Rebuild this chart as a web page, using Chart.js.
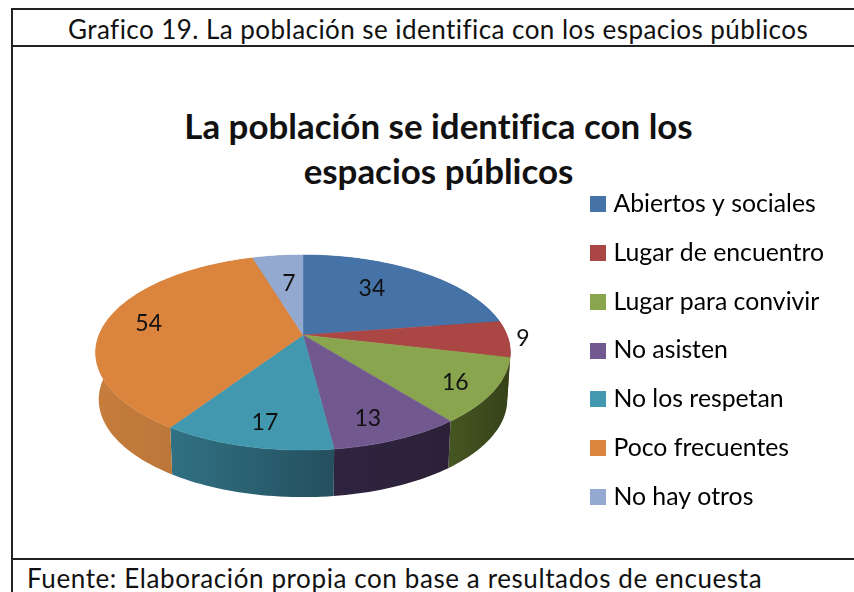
<!DOCTYPE html>
<html lang="es">
<head>
<meta charset="utf-8">
<title>Grafico 19</title>
<script src="https://cdn.jsdelivr.net/npm/chart.js@4/dist/chart.umd.min.js"></script>
<style>
    html, body { margin: 0; padding: 0; background: #fff; overflow: hidden; }
    body { width: 854px; height: 592px; position: relative; font-family: Lato, sans-serif; color: #111; font-variant-ligatures: none; }
    .linea { position: absolute; background: #222; }
    .texto { position: absolute; white-space: nowrap; }
    #grafica { position: absolute; left: 0; top: 0; }
</style>
</head>
<body>
<div class="linea" style="left:11px;top:8px;width:843px;height:2px"></div>
<div class="linea" style="left:12px;top:45px;width:842px;height:2px"></div>
<div class="linea" style="left:12px;top:558px;width:842px;height:2px"></div>
<div class="linea" style="left:11px;top:8px;width:2px;height:584px"></div>
<div class="texto" style="left:68px;top:12px;font-size:26px;letter-spacing:0.45px;line-height:34px">Grafico 19. La población se identifica con los espacios públicos</div>
<div class="texto" style="left:0;width:877px;top:103px;text-align:center;font-size:34.9px;font-weight:bold;line-height:45px">La población se identifica con los<br>espacios públicos</div>
<div class="texto" style="left:27px;top:561px;font-size:26px;letter-spacing:0.6px;line-height:34px">Fuente: Elaboración propia con base a resultados de encuesta</div>
<canvas id="grafica" width="854" height="592"></canvas>
<script>
const categorias = ["Abiertos y sociales", "Lugar de encuentro", "Lugar para convivir", "No asisten", "No los respetan", "Poco frecuentes", "No hay otros"];
const valores = [34, 9, 16, 13, 17, 54, 7];

const colores = ["#4572a7", "#aa4643", "#89a54e", "#71588f", "#4198af", "#db843d", "#93a9cf"];
// lado izquierdo y derecho de la pared del pastel
const coloresLado = [
    ["#35587f", "#35587f"], ["#7d3432", "#7d3432"], ["#465622", "#354118"], ["#2f2440", "#2c2138"],
    ["#307183", "#244f5e"], ["#c67d3c", "#b2703a"], ["#6f80a0", "#6f80a0"]
];
// donde cae cada numero dentro de su rebanada
const radioEtiqueta = [0.6, 1.07, 0.82, 0.78, 0.78, 0.77, 0.6];
const ajusteEtiquetaX = [-5, 0, -1, -6, 4, -2, 2];
const ajusteEtiquetaY = [-7, -1, 3, 6, 5, -1, -1];

// Perspectiva del disco
const centroX = 303, centroY = 335;
const radioX = 204, radioY = 94.4, fuga = 0.18;
const alto = 47, escalaBase = 0.985;

function proyectar(angulo, r) {
    const X = Math.cos(angulo) * r;
    const Y = Math.sin(angulo) * r;
    const w = 1 / (1 - fuga * Y);
    return { x: centroX + radioX * X * w, y: centroY + radioY * Y * w };
}

function puntosArco(inicio, fin) {
    const pasos = Math.max(4, Math.ceil((fin - inicio) * 40));
    const puntos = [];
    for (let i = 0; i <= pasos; i++) {
        puntos.push(proyectar(inicio + (fin - inicio) * i / pasos, 1));
    }
    return puntos;
}

const pastel3d = {
    id: "pastel3d",
    beforeDatasetsDraw(chart) {
        const ctx = chart.ctx;
        const arcos = chart.getDatasetMeta(0).data;
        ctx.save();

        // Paredes primero, la cara de arriba las tapa
        arcos.forEach((arco, i) => {
            const puntos = puntosArco(arco.startAngle, arco.endAngle);
            const xs = puntos.map(p => p.x);
            const grad = ctx.createLinearGradient(Math.min(...xs), 0, Math.max(...xs) + 1, 0);
            grad.addColorStop(0, coloresLado[i][0]);
            grad.addColorStop(1, coloresLado[i][1]);
            ctx.beginPath();
            puntos.forEach((p, k) => k ? ctx.lineTo(p.x, p.y) : ctx.moveTo(p.x, p.y));
            puntos.slice().reverse().forEach(p => {
                ctx.lineTo(centroX + (p.x - centroX) * escalaBase, p.y + alto);
            });
            ctx.closePath();
            ctx.fillStyle = grad;
            ctx.fill();
        });

        arcos.forEach((arco, i) => {
            ctx.beginPath();
            ctx.moveTo(centroX, centroY);
            puntosArco(arco.startAngle, arco.endAngle).forEach(p => ctx.lineTo(p.x, p.y));
            ctx.closePath();
            ctx.fillStyle = colores[i];
            ctx.strokeStyle = colores[i];
            ctx.lineWidth = 0.5;
            ctx.fill();
            ctx.stroke();
        });

        // Numeros
        ctx.fillStyle = "#111";
        ctx.font = "23px Lato";
        ctx.textAlign = "center";
        ctx.textBaseline = "middle";
        arcos.forEach((arco, i) => {
            const p = proyectar((arco.startAngle + arco.endAngle) / 2, radioEtiqueta[i]);
            ctx.fillText(String(valores[i]), p.x + ajusteEtiquetaX[i], p.y + ajusteEtiquetaY[i]);
        });

        ctx.restore();
        return false;
    }
};

function cuadrito(color) {
    const c = document.createElement("canvas");
    c.width = 16;
    c.height = 16;
    const g = c.getContext("2d");
    g.fillStyle = color;
    g.fillRect(0, 0, 16, 16);
    return c;
}

new Chart(document.getElementById("grafica"), {
    type: "pie",
    data: {
        labels: categorias,
        datasets: [{ data: valores, backgroundColor: colores, borderWidth: 0 }]
    },
    options: {
        responsive: false,
        animation: false,
        layout: { padding: { top: 109, right: 20, bottom: 0, left: 0 } },
        plugins: {
            title: { display: false },
            tooltip: { enabled: false },
            legend: {
                position: "right",
                labels: {
                    color: "#111",
                    font: { family: "Lato", size: 24.8 },
                    usePointStyle: true,
                    pointStyleWidth: 6,
                    padding: 24,
                    generateLabels: () => categorias.map((texto, i) => ({
                        text: texto,
                        fillStyle: colores[i],
                        strokeStyle: colores[i],
                        pointStyle: cuadrito(colores[i]),
                        lineWidth: 0,
                        hidden: false,
                        index: i
                    }))
                }
            }
        }
    },
    plugins: [pastel3d]
});
</script>
</body>
</html>
